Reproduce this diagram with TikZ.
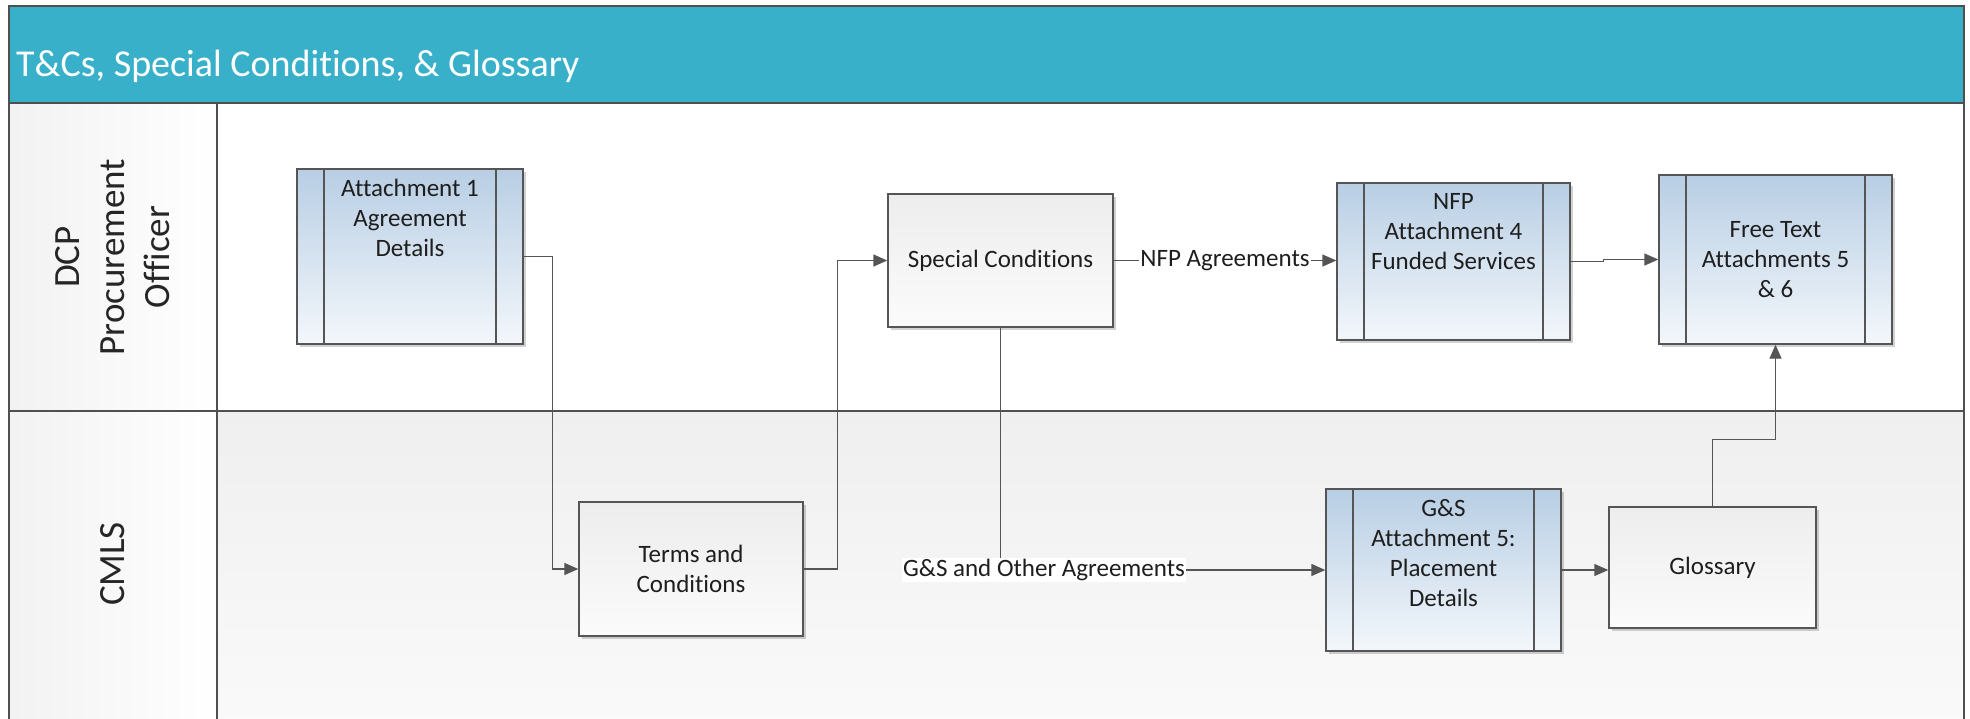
\documentclass[tikz,border=0pt]{standalone}
\usepackage{fontspec}
\setmainfont{Carlito}[Ligatures={NoCommon}]
\usetikzlibrary{arrows.meta,calc,shadows}

\definecolor{hdr}{RGB}{56,176,201}
\definecolor{framec}{RGB}{80,80,80}
\definecolor{edgec}{RGB}{85,85,85}
\definecolor{blueTop}{RGB}{184,206,228}
\definecolor{blueBot}{RGB}{243,247,251}
\definecolor{grayTop}{RGB}{237,237,237}
\definecolor{grayBot}{RGB}{251,251,251}
\definecolor{laneTop}{RGB}{239,239,239}
\definecolor{laneBot}{RGB}{250,250,250}
\definecolor{colLeft}{RGB}{242,242,242}
\definecolor{txt}{RGB}{30,30,30}

\begin{document}
\begin{tikzpicture}[x=1pt,y=-1pt,
  every node/.style={font=\fontsize{25}{30}\selectfont, text=txt},
  boxshadow/.style={drop shadow={shadow xshift=3pt,shadow yshift=-3pt,fill=black,opacity=0.18}},
  subproc/.style={draw=edgec, line width=1.4pt, top color=blueTop, bottom color=blueBot, boxshadow,
     path picture={\draw[edgec,line width=1.4pt]
        ([xshift=27pt]path picture bounding box.north west) -- ([xshift=27pt]path picture bounding box.south west)
        ([xshift=-27pt]path picture bounding box.north east) -- ([xshift=-27pt]path picture bounding box.south east);}},
  procbox/.style={draw=edgec, line width=1.4pt, top color=grayTop, bottom color=grayBot, boxshadow,
     align=center, inner sep=0pt},
  toptext/.style={label={[anchor=north, yshift=-11pt, inner sep=0pt, align=center]north:#1}},
  flow/.style={draw=edgec, line width=1.4pt, -{Triangle[length=14pt,width=12pt]}},
  lanetext/.style={font=\fontsize{37}{45}\selectfont, rotate=90, align=center, text=black!85},
  conlabel/.style={fill=white, inner sep=1.5pt},
  laneline/.style={draw=framec, line width=2.4pt}
]
\useasboundingbox (0,0) rectangle (1970,718);
\clip (0,0) rectangle (1970,718);

% pool header
\fill[white] (0,0) rectangle (1970,718);
\fill[hdr] (9,6) rectangle (1964,103);
\node[anchor=base west, font=\fontsize{38}{45}\selectfont, text=white, inner sep=0pt] (title) at (16,76)
  {T\&Cs, Special Conditions, \& Glossary};

% lane backgrounds
\shade[left color=colLeft, right color=white] (9,103) rectangle (217,411);
\shade[left color=colLeft, right color=white] (9,411) rectangle (217,730);
\shade[top color=laneTop, bottom color=laneBot] (217,411) rectangle (1964,730);

% lane borders
\draw[laneline] (9,6) rectangle (1964,103);
\draw[laneline] (9,103) -- (9,730);
\draw[laneline] (1964,103) -- (1964,730);
\draw[laneline] (217,103) -- (217,730);
\draw[laneline] (9,411) -- (1964,411);

% lane titles
\node[lanetext] (laneA) at (113,257) {DCP\\Procurement\\Officer};
\node[lanetext] (laneB) at (113,564) {CMLS};

% shapes
\node[subproc, minimum width=226pt, minimum height=175pt,
      toptext={Attachment 1\\Agreement\\Details}] (att1) at (410,256.5) {};
\node[procbox, minimum width=225pt, minimum height=133pt] (sc) at (1000.5,260.5) {Special Conditions};
\node[subproc, minimum width=233pt, minimum height=157pt,
      toptext={NFP\\Attachment 4\\Funded Services}] (nfp) at (1453.5,261.5) {};
\node[subproc, minimum width=233pt, minimum height=169pt, align=center, inner sep=0pt]
      (ft) at (1775.5,259.5) {Free Text\\Attachments 5\\\& 6};
\node[procbox, minimum width=224pt, minimum height=134pt] (tc) at (691,569) {Terms and\\Conditions};
\node[subproc, minimum width=235pt, minimum height=162pt,
      toptext={G\&S\\Attachment 5:\\Placement\\Details}] (gs) at (1443.5,570) {};
\node[procbox, minimum width=207pt, minimum height=121pt] (gl) at (1712.5,567.5) {Glossary};

% connectors
\draw[flow] (att1.east) -- ++(29,0) |- (tc.west);
\draw[flow] (tc.east) -- ++(34,0) |- (sc.west);
\draw[flow] (sc.east) -- (sc.east -| nfp.west)
  node[conlabel, midway] (nfpl) {NFP Agreements};
\draw[flow] (nfp.east) -- ++(33,0) |- (ft.west);
\draw[flow] (sc.south) |- (gs.west)
  node[conlabel, pos=0.567] (gsl) {G\&S and Other Agreements};
\draw[flow] (gs.east) -- (gs.east -| gl.west);
\draw[flow] (gl.north) -- ++(0,-67) -| (ft.south);
\end{tikzpicture}
\end{document}
